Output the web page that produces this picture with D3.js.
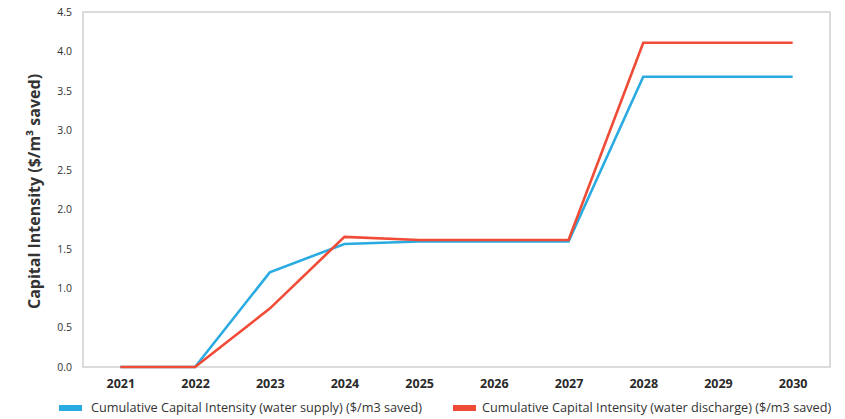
<!DOCTYPE html>
<html><head><meta charset="utf-8">
<script src="https://cdn.jsdelivr.net/npm/d3@7"></script>
<style>body{margin:0;background:#fff;} svg{display:block;font-family:"Open Sans",sans-serif;}</style>
</head><body><svg id="c" width="845" height="419"></svg>
<script>
const years = ["2021","2022","2023","2024","2025","2026","2027","2028","2029","2030"];
const waterSupply = [0, 0, 1.2, 1.56, 1.59, 1.59, 1.59, 3.68, 3.68, 3.68];
const waterDischarge = [0, 0, 0.74, 1.65, 1.61, 1.61, 1.61, 4.11, 4.11, 4.11];
const yTicks = [0, 0.5, 1.0, 1.5, 2.0, 2.5, 3.0, 3.5, 4.0, 4.5];
const seriesNames = ["Cumulative Capital Intensity (water supply) ($/m3 saved)",
                     "Cumulative Capital Intensity (water discharge) ($/m3 saved)"];
const colors = ["#29abe2", "#ef4b36"];

const svg = d3.select("#c");
const L = 83, R = 830, T = 12, B = 367;
const x = d3.scalePoint().domain(years).range([L, R]).padding(0.5);
const y = d3.scaleLinear().domain([0, 4.5]).range([B, T]);

// border
svg.append("rect").attr("x", L).attr("y", T).attr("width", R - L).attr("height", B - T)
  .attr("fill", "none").attr("stroke", "#cfcfcf").attr("stroke-width", 1.5);

// y axis
const ya = svg.append("g").attr("transform", `translate(${L},0)`)
  .call(d3.axisLeft(y).tickValues(yTicks).tickFormat(d3.format(".1f")).tickSize(0).tickPadding(11));
ya.select(".domain").remove();
ya.selectAll("text").attr("font-size", 10.5).attr("fill", "#333").attr("font-family", "Open Sans");

// x axis
const xa = svg.append("g").attr("transform", `translate(0,${B})`)
  .call(d3.axisBottom(x).tickSize(0).tickPadding(12));
xa.select(".domain").remove();
xa.selectAll("text").attr("font-size", 12.5).attr("font-weight", "bold").attr("fill", "#2a2a2a")
  .attr("font-family", "Open Sans");

// y title
svg.append("text").attr("transform", `translate(40,${(T + B) / 2 + 2}) rotate(-90)`)
  .attr("text-anchor", "middle").attr("font-size", 16).attr("font-weight", "bold").attr("fill", "#333")
  .text("Capital Intensity ($/m³ saved)");

// lines
const line = d3.line().x((d, i) => x(years[i])).y(d => y(d));
[waterSupply, waterDischarge].forEach((s, k) => {
  svg.append("path").datum(s).attr("d", line).attr("fill", "none")
    .attr("stroke", colors[k]).attr("stroke-width", 2.6).attr("stroke-linejoin", "miter");
});

// legend
const lg = [{x: 59, tx: 91}, {x: 453, tx: 482}];
seriesNames.forEach((n, k) => {
  svg.append("rect").attr("x", lg[k].x).attr("y", 405).attr("width", 23).attr("height", 6).attr("fill", colors[k]);
  svg.append("text").attr("x", lg[k].tx).attr("y", 412).attr("font-size", 12.7).attr("fill", "#333").text(n);
});
</script></body></html>
